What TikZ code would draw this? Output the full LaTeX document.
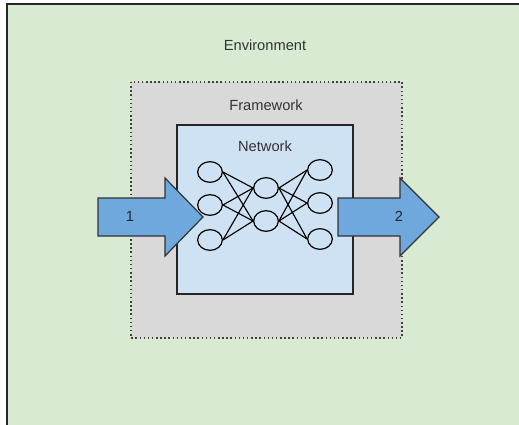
\documentclass[tikz,border=0pt]{standalone}
\usepackage{fontspec}
\setmainfont{Liberation Sans}
\usetikzlibrary{shapes.geometric, positioning}
\definecolor{envgreen}{HTML}{D9EAD3}
\definecolor{frmgray}{HTML}{D9D9D9}
\definecolor{netblue}{HTML}{CFE2F3}
\definecolor{arrblue}{HTML}{6FA8DC}
\definecolor{txtgray}{HTML}{333333}

\begin{document}
\begin{tikzpicture}[x=0.75pt, y=-0.75pt,
        label/.style={text=txtgray, font=\fontsize{11}{13}\selectfont, inner sep=0pt},
        neuron/.style={ellipse, draw, line width=0.9pt, minimum width=18.5pt, minimum height=15.5pt, inner sep=0pt},
        flowarrow/.style={draw=black!80, line width=0.9pt, fill=arrblue, line join=miter},
        link/.style={line width=0.85pt}]
    \useasboundingbox (0,0) rectangle (519,425);
    \clip (0,0) rectangle (519,425);
    \fill[white] (0,0) rectangle (519,425);

    % environment, framework, network
    \draw[fill=envgreen, draw=black!85, line width=1.5pt] (7,4) rectangle (540,450);
    \draw[fill=frmgray, draw=black!75, line width=1.1pt, dotted] (131,82) rectangle (402,338);
    \draw[fill=netblue, draw=black!85, line width=1.4pt] (177,125) rectangle (353,294);

    \node[label] (env) at (265,45) {Environment};
    \node[label] (frm) at (266,105) {Framework};
    \node[label] (net) at (265,146) {Network};

    % input and output
    \draw[flowarrow] (98,198) -- (165,198) -- (165,178) -- (203,217) -- (165,256) -- (165,236) -- (98,236) -- cycle;
    \draw[flowarrow] (338,198) -- (400,198) -- (400,178) -- (439,217) -- (400,256) -- (400,236) -- (338,236) -- cycle;
    \node[label, text=black!85] (in) at (130,216) {1};
    \node[label, text=black!85] (out) at (399,216) {2};

    % neurons
    \node[neuron] (i1) at (210,172) {};
    \node[neuron] (i2) at (210,205) {};
    \node[neuron] (i3) at (210,240) {};
    \node[neuron] (h1) at (266,188) {};
    \node[neuron] (h2) at (266,221) {};
    \node[neuron] (o1) at (320,170) {};
    \node[neuron] (o2) at (320,203) {};
    \node[neuron] (o3) at (320,239) {};

    \foreach \a in {i1,i2,i3}
        \foreach \b in {h1,h2}
            \draw[link] (\a.east) -- (\b.west);
    \foreach \a in {h1,h2}
        \foreach \b in {o1,o2,o3}
            \draw[link] (\a.east) -- (\b.west);
\end{tikzpicture}
\end{document}
